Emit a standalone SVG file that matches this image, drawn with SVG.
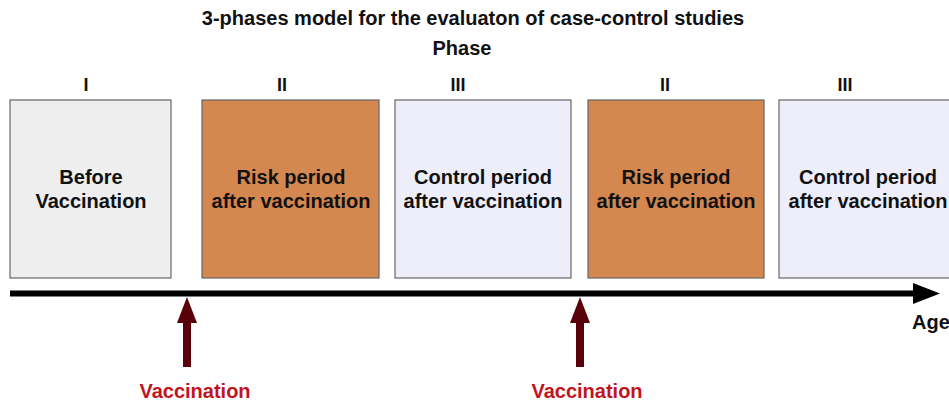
<svg xmlns="http://www.w3.org/2000/svg" width="949" height="403" viewBox="0 0 949 403">
<style>
text{font-family:"Liberation Sans",Arial,sans-serif;font-weight:bold;text-anchor:middle;fill:#111}
.title{font-size:20px}
.ph{font-size:20px}
.rn{font-size:18px}
.bt{font-size:20px}
.vac{font-size:20px;fill:#c0141e}
.box{stroke:#666;stroke-width:1.2}
.grey{fill:#eeeeee}
.orange{fill:#d4874f}
.lav{fill:#eeeefa}
.va{fill:#5a0008}
</style>
<rect width="949" height="403" fill="#fff"/>
<text class="title" x="473" y="25">3-phases model for the evaluaton of case-control studies</text>
<text class="ph" x="462" y="55">Phase</text>
<g id="phase-labels">
<text class="rn" x="86" y="91">I</text>
<text class="rn" x="282" y="91">II</text>
<text class="rn" x="458" y="91">III</text>
<text class="rn" x="665" y="91">II</text>
<text class="rn" x="845" y="91">III</text>
</g>
<g id="n1"><rect class="box grey" x="10" y="100" width="161" height="178"/>
<text class="bt" x="91" y="184">Before</text><text class="bt" x="91" y="208">Vaccination</text></g>
<g id="n2"><rect class="box orange" x="202" y="100" width="177" height="178"/>
<text class="bt" x="291" y="184">Risk period</text><text class="bt" x="291" y="208">after vaccination</text></g>
<g id="n3"><rect class="box lav" x="395" y="100" width="176" height="178"/>
<text class="bt" x="483" y="184">Control period</text><text class="bt" x="483" y="208">after vaccination</text></g>
<g id="n4"><rect class="box orange" x="588" y="100" width="176" height="178"/>
<text class="bt" x="676" y="184">Risk period</text><text class="bt" x="676" y="208">after vaccination</text></g>
<g id="n5"><rect class="box lav" x="779" y="100" width="180" height="178"/>
<text class="bt" x="868" y="184">Control period</text><text class="bt" x="868" y="208">after vaccination</text></g>
<g id="connectors">
<line x1="10" y1="293.5" x2="915" y2="293.5" stroke="#000" stroke-width="6"/>
<polygon points="913,283 940,293.5 913,304" fill="#000"/>
<rect class="va" x="183" y="322" width="8" height="45"/>
<polygon class="va" points="187,297 197,323 177,323"/>
<rect class="va" x="576" y="322" width="8" height="45"/>
<polygon class="va" points="580,297 590,323 570,323"/>
</g>
<text class="ph" x="931" y="329">Age</text>
<text class="vac" x="195" y="398">Vaccination</text>
<text class="vac" x="587" y="398">Vaccination</text>
</svg>
